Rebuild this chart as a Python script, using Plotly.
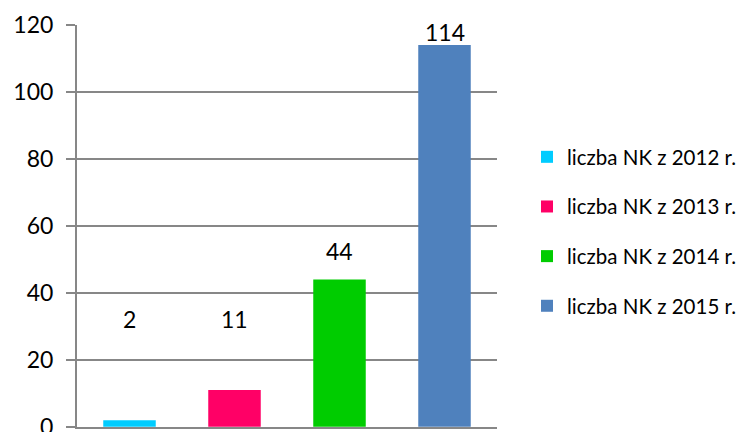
import plotly.graph_objects as go

categories = ["liczba NK z 2012 r.", "liczba NK z 2013 r.", "liczba NK z 2014 r.", "liczba NK z 2015 r."]
values = [2, 11, 44, 114]
colors = ["#00CCFF", "#FF0066", "#00CC00", "#4F81BD"]
# pixel offset of each value label's centre above its bar top (as placed in the reference)
label_offsets_px = [101, 71, 28, 13]
y_ticks = [0, 20, 40, 60, 80, 100, 120]

FONT = "Lato"
# the page body has an 8px default margin; the figure is shifted to compensate
W, H = 747, 432
fig = go.Figure()
for cat, val, col in zip(categories, values, colors):
    fig.add_trace(go.Bar(
        x=[cat], y=[val], name=cat, marker=dict(color=col, line=dict(width=0)),
        width=0.5, legendgroup=cat, hoverinfo="skip",
    ))

for cat, val, off in zip(categories, values, label_offsets_px):
    fig.add_annotation(x=cat, y=val, text=str(val), showarrow=False,
                       yanchor="middle", yshift=off,
                       font=dict(family=FONT, size=23, color="#000000"))

fig.update_layout(
    width=W, height=H,
    margin=dict(l=69, r=258, t=17, b=13, autoexpand=False),
    paper_bgcolor="white", plot_bgcolor="white",
    barmode="relative",
    font=dict(family=FONT, size=23, color="#000000"),
    showlegend=True,
    legend=dict(x=(527 - 77) / 420, xanchor="left", y=(427 - 137) / 402, yanchor="top",
                font=dict(family=FONT, size=20.5, color="#000000"),
                tracegroupgap=20, bgcolor="rgba(0,0,0,0)", borderwidth=0),
    xaxis=dict(showticklabels=False, showgrid=False, ticks="", automargin=False,
               showline=True, linecolor="#878787", linewidth=2,
               categoryorder="array", categoryarray=categories),
    yaxis=dict(range=[-0.05, 120], tickvals=y_ticks, showgrid=True, automargin=False,
               gridcolor="#878787", gridwidth=1.5,
               showline=True, linecolor="#878787", linewidth=2,
               ticks="outside", ticklen=9, tickcolor="#878787", tickwidth=1.5,
               ticklabelstandoff=8, zeroline=False,
               tickfont=dict(family=FONT, size=23, color="#000000")),
)

fig.write_html("out.html")
